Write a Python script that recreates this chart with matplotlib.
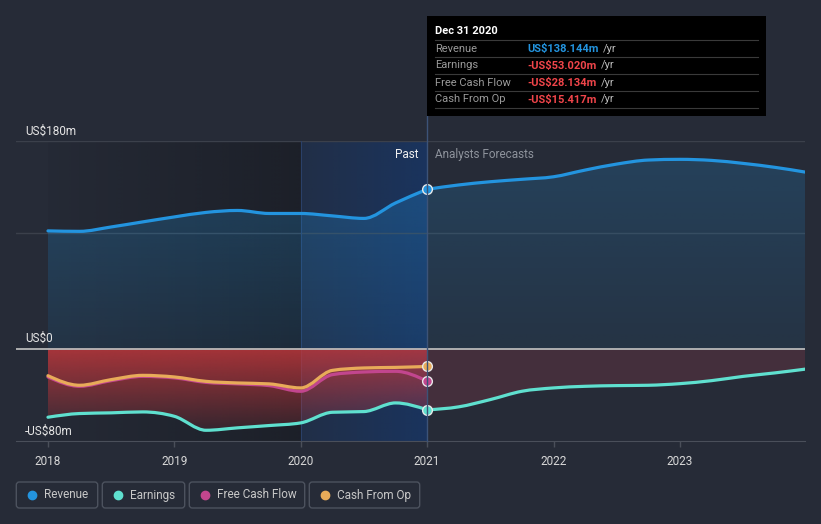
import numpy as np
import matplotlib
matplotlib.use("Agg")
import matplotlib.pyplot as plt
from matplotlib.patches import FancyBboxPatch, Rectangle, PathPatch
from matplotlib.path import Path
from matplotlib.colors import to_rgba

plt.rcParams['font.family'] = ['Roboto', 'DejaVu Sans']

# Data (US$ millions), quarterly past values and forecast readings
past_x = [2018.0, 2018.25, 2018.5, 2018.75, 2019.0, 2019.25, 2019.5, 2019.75,
          2020.0, 2020.25, 2020.5, 2020.75, 2021.0]
revenue_past = [102.1, 101.7, 105.5, 109.9, 114.2, 118.1, 119.8, 117.2,
                117.2, 115.1, 112.9, 126.3, 138.144]
earnings_past = [-59.4, -56.2, -55.6, -54.8, -58.6, -70.7, -68.6, -66.6,
                 -64.3, -55.1, -54.5, -47.0, -53.02]
fcf_past = [-24.5, -32.6, -27.7, -24.0, -25.3, -29.2, -30.5, -32.0,
            -36.9, -22.5, -20.2, -19.6, -28.134]
cfo_past = [-23.4, -31.7, -26.8, -23.1, -24.5, -28.3, -29.7, -30.5,
            -34.0, -18.8, -16.7, -16.2, -15.417]

fc_x = [2021.0, 2021.25, 2021.5, 2021.75, 2022.0, 2022.25, 2022.5, 2022.75,
        2023.0, 2023.25, 2023.5, 2023.75, 2024.0]
revenue_fc = [138.144, 141.9, 144.7, 146.8, 149.0, 154.8, 160.0, 163.5,
              164.1, 163.2, 160.6, 157.2, 152.9]
earnings_fc = [-53.02, -50.4, -44.1, -36.9, -34.0, -32.6, -32.0, -31.7,
               -30.3, -27.7, -24.0, -21.0, -17.6]

years = [2018, 2019, 2020, 2021, 2022, 2023]
legend_names = ["Revenue", "Earnings", "Free Cash Flow", "Cash From Op"]

# Colours
bg = "#262b37"
c_rev = "#2394df"
c_earn = "#5fe0cf"
c_fcf = "#c2468e"
c_cfo = "#e8ab59"
grid_c = "#3b404b"

W, H = 821, 524
fig = plt.figure(figsize=(W / 100, H / 100), dpi=100)
fig.patch.set_facecolor(bg)

ax = fig.add_axes([16 / W, 83 / H, 789 / W, 300 / H])
ax.set_facecolor(bg)
x0, x1 = 2017.747, 2023.99
ax.set_xlim(x0, x1)
ax.set_ylim(-80, 180)


def tangents(x, y):
    # monotone cubic tangents (like d3 curveMonotoneX)
    x = np.asarray(x, float)
    y = np.asarray(y, float)
    h = np.diff(x)
    s = np.diff(y) / h
    t = np.zeros(len(x))
    for k in range(1, len(x) - 1):
        p = (s[k - 1] * h[k] + s[k] * h[k - 1]) / (h[k - 1] + h[k])
        t[k] = (np.sign(s[k - 1]) + np.sign(s[k])) * min(abs(s[k - 1]), abs(s[k]), 0.5 * abs(p))
    t[0] = (3 * s[0] - t[1]) / 2
    t[-1] = (3 * s[-1] - t[-2]) / 2
    return t


def curve_verts(x, y):
    t = tangents(x, y)
    verts = [(x[0], y[0])]
    codes = [Path.MOVETO]
    for i in range(len(x) - 1):
        h = x[i + 1] - x[i]
        verts += [(x[i] + h / 3, y[i] + t[i] * h / 3),
                  (x[i + 1] - h / 3, y[i + 1] - t[i + 1] * h / 3),
                  (x[i + 1], y[i + 1])]
        codes += [Path.CURVE4] * 3
    return verts, codes


def smooth_line(ax, x, y, color, lw, z):
    verts, codes = curve_verts(x, y)
    ax.add_patch(PathPatch(Path(verts, codes), facecolor="none", edgecolor=color,
                           lw=lw, zorder=z, capstyle="round", joinstyle="round"))


def area_path(x, y, base):
    verts, codes = curve_verts(x, y)
    verts += [(x[-1], base), (x[0], base), (x[0], y[0])]
    codes += [Path.LINETO, Path.LINETO, Path.CLOSEPOLY]
    return Path(verts, codes)


def grad_fill(ax, path, xa, xb, rgb, a_top, a_bot, y_hi, y_lo, z):
    clip = PathPatch(path, facecolor="none", edgecolor="none")
    ax.add_patch(clip)
    n = 256
    img = np.zeros((n, 1, 4))
    r, g, b, _ = to_rgba(rgb)
    img[..., 0], img[..., 1], img[..., 2] = r, g, b
    img[..., 3] = np.linspace(a_top, a_bot, n)[:, None]
    im = ax.imshow(img, extent=[xa, xb, y_lo, y_hi], aspect="auto",
                   origin="upper", zorder=z, interpolation="bilinear")
    im.set_clip_path(clip)


def hband(ax, xa, xb, rgb, a_left, a_right, z):
    n = 256
    img = np.zeros((1, n, 4))
    r, g, b, _ = to_rgba(rgb)
    img[..., 0], img[..., 1], img[..., 2] = r, g, b
    img[..., 3] = np.linspace(a_left, a_right, n)[None, :]
    ax.imshow(img, extent=[xa, xb, -80, 180], aspect="auto", zorder=z,
              interpolation="bilinear")


# past shading bands
hband(ax, 2018.0, 2020.0, "#111318", 0.05, 0.45, 1)
hband(ax, 2020.0, 2021.0, "#123a78", 0.25, 0.6, 1)

# gridlines
for yv in [180, 100]:
    ax.axhline(yv, color=grid_c, lw=1, zorder=2)

# revenue area
all_x = past_x + fc_x[1:]
all_rev = revenue_past + revenue_fc[1:]
grad_fill(ax, area_path(past_x, revenue_past, 0), 2018, 2021, c_rev, 0.30, 0.10, 170, 0, 3)
grad_fill(ax, area_path(fc_x, revenue_fc, 0), 2021, 2024, c_rev, 0.22, 0.08, 170, 0, 3)

# negative areas
grad_fill(ax, area_path(past_x, earnings_past, 0), 2018, 2021, "#c8383c",
          0.80, 0.12, 0, -72, 3)
ax.add_patch(PathPatch(area_path(fc_x, earnings_fc, 0), facecolor="#8a3a48",
                       alpha=0.30, edgecolor="none", zorder=3))

ax.axhline(0, color="#b8b8b8", lw=1.3, zorder=4)

lw = 2.3
smooth_line(ax, past_x, revenue_past, c_rev, lw, 6)
smooth_line(ax, fc_x, revenue_fc, c_rev, lw, 6)
smooth_line(ax, past_x, earnings_past, c_earn, lw, 6)
smooth_line(ax, fc_x, earnings_fc, c_earn, lw, 6)
smooth_line(ax, past_x, fcf_past, c_fcf, lw, 6)
smooth_line(ax, past_x, cfo_past, c_cfo, lw, 7)

for val, col in [(revenue_past[-1], c_rev), (earnings_past[-1], c_earn),
                 (fcf_past[-1], c_fcf), (cfo_past[-1], c_cfo)]:
    ax.plot([2021.0], [val], "o", ms=7, color=col, mec="#e8e8e8", mew=1, zorder=9)

ax.axvline(2020.0, color="#2a4068", lw=0.8, zorder=2)

# y labels inside
ax.text(2017.82, 183, "US$180m", color="#e6e6e6", fontsize=8.5, va="bottom")
ax.text(2017.82, 3, "US$0", color="#e6e6e6", fontsize=8.5, va="bottom")
ax.text(2017.82, -77, "-US$80m", color="#e6e6e6", fontsize=8.5, va="bottom")
ax.text(2020.93, 168, "Past", color="#f0f0f0", fontsize=8.5, ha="right", va="center")
ax.text(2021.06, 168, "Analysts Forecasts", color="#8e939c", fontsize=8.5,
        ha="left", va="center")

for s in ["top", "right", "left"]:
    ax.spines[s].set_visible(False)
ax.spines["bottom"].set_color("#4a4f5a")
ax.set_xticks(years)
ax.set_xticklabels([str(y) for y in years])
ax.set_yticks([])
ax.tick_params(axis="x", colors="#4a4f5a", length=4, width=1, labelsize=8.5,
               labelcolor="#d8d8d8", pad=6)

# overlay for tooltip and legend (pixel coordinates)
ov = fig.add_axes([0, 0, 1, 1], facecolor="none")
ov.set_xlim(0, W)
ov.set_ylim(H, 0)
ov.axis("off")

ov.plot([427, 427], [116, 441], color="#3c5378", lw=1, zorder=1)
ov.add_patch(Rectangle((427, 16), 339, 100, facecolor="#000000", edgecolor="none", zorder=2))
ov.text(435, 31, "Dec 31 2020", color="white", fontsize=8, fontweight="bold",
        va="center", zorder=3)
for yl in [40, 57, 74, 91, 108]:
    ov.plot([435, 758], [yl, yl], color="#3a3a3a", lw=0.8, zorder=3)
rows = [("Revenue", "US$138.144m", c_rev),
        ("Earnings", "-US$53.020m", "#f0454a"),
        ("Free Cash Flow", "-US$28.134m", "#f0454a"),
        ("Cash From Op", "-US$15.417m", "#f0454a")]
for i, (lab, val, col) in enumerate(rows):
    yy = 48.5 + i * 17
    ov.text(435, yy, lab, color="#9a9a9a", fontsize=8, va="center", zorder=3)
    t = ov.text(527, yy, val, color=col, fontsize=8, fontweight="bold",
                va="center", zorder=3)
    ov.annotate("/yr", xy=(1, 0.5), xycoords=t, xytext=(3, 0),
                textcoords="offset points", color="#bdbdbd", fontsize=8,
                va="center", zorder=3)

# legend boxes
boxes = [(16.3, 81.4), (102.3, 82.4), (189.3, 115.4), (309.3, 110.4)]
cols = [c_rev, c_earn, c_fcf, c_cfo]
for (bx, bw), name, col in zip(boxes, legend_names, cols):
    ov.add_patch(FancyBboxPatch((bx, 482), bw, 26, boxstyle="round,pad=0,rounding_size=3",
                                facecolor="none", edgecolor="#4c525e", lw=1))
    ov.plot([bx + 16], [495], "o", ms=6, color=col)
    ov.text(bx + 28, 495, name, color="#c8c8c8", fontsize=8.5, va="center")

fig.savefig("out.png", dpi=100, facecolor=bg)
